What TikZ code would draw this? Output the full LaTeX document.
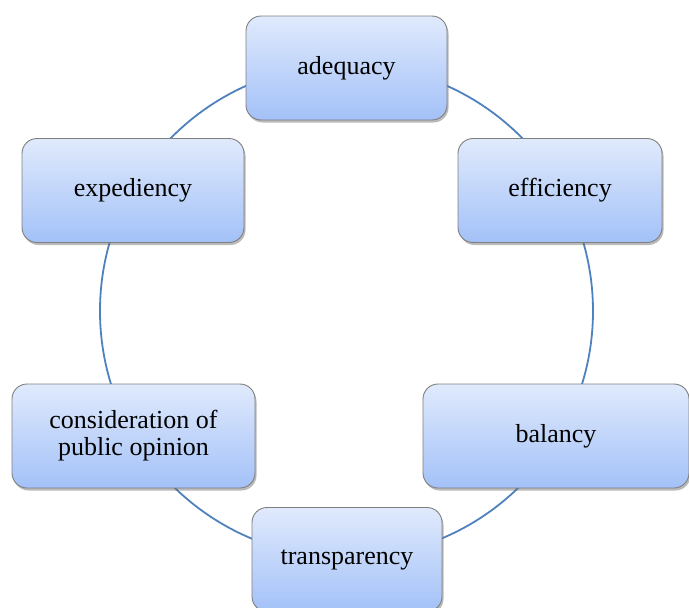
\documentclass[tikz,border=0pt]{standalone}
\usepackage{fontspec}
\setmainfont{Liberation Serif}
\usetikzlibrary{shadows}
\definecolor{ringblue}{HTML}{4F81BD}
\definecolor{boxtop}{HTML}{E0EAFC}
\definecolor{boxbot}{HTML}{A3C1F8}
\definecolor{boxline}{HTML}{7F7F7F}
\tikzset{
  ring/.style={draw=ringblue, line width=1.8pt},
  item/.style={rectangle, rounded corners=15pt, draw=boxline, line width=0.9pt,
    top color=boxtop, bottom color=boxbot,
    drop shadow={shadow xshift=1.5pt, shadow yshift=-2.5pt, opacity=0.45, fill=black!60},
    minimum height=104pt, inner sep=2pt, align=center,
    font=\fontsize{26}{27}\selectfont, text=black}
}
\begin{document}
\begin{tikzpicture}[x=1pt,y=-1pt]
\useasboundingbox (0,0) rectangle (689,608);
\clip (0,0) rectangle (689,608);
\coordinate (c) at (346.5,311);
\draw[ring] (c) circle (246.5pt);
\node[item, minimum width=201pt] (adequacy) at (346.5,68) {adequacy};
\node[item, minimum width=204pt] (efficiency) at (560,190.5) {efficiency};
\node[item, minimum width=222pt] (expediency) at (133,190.5) {expediency};
\node[item, minimum width=243pt] (opinion) at (133.5,436) {consideration of\\public opinion};
\node[item, minimum width=266pt] (balancy) at (556,436) {balancy};
\node[item, minimum width=190pt] (transparency) at (347,559.5) {transparency};
\end{tikzpicture}
\end{document}
